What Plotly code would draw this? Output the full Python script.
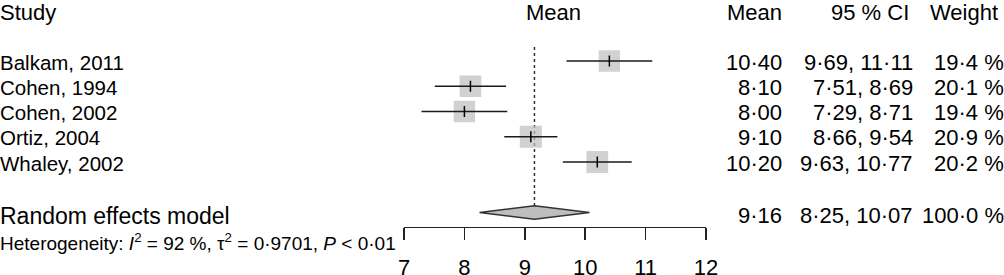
import numpy as np
import plotly.graph_objects as go

# ---- data ----
studies = ["Balkam, 2011", "Cohen, 1994", "Cohen, 2002", "Ortiz, 2004", "Whaley, 2002"]
means = [10.40, 8.10, 8.00, 9.10, 10.20]
lower = [9.69, 7.51, 7.29, 8.66, 9.63]
upper = [11.11, 8.69, 8.71, 9.54, 10.77]
weights = [19.4, 20.1, 19.4, 20.9, 20.2]
pooled_label = "Random effects model"
pooled_mean = 9.16
pooled_lower = 8.25
pooled_upper = 10.07
pooled_weight = 100.0
het_text = "Heterogeneity: <i>I</i><sup>2</sup> = 92 %, \u03c4<sup>2</sup> = 0\u00b79701, <i>P</i> &lt; 0\u00b701"
tick_vals = [7, 8, 9, 10, 11, 12]
x_range = [7, 12]

# ---- layout constants ----
W, H = 1004, 275
FONT = "Liberation Sans, Arial, sans-serif"
row_top = 10.5      # pixel of header row
row_h = 25.25       # pixel per row
axis_px = 226.7     # pixel of x axis line
study_rows = list(range(2, 2 + len(studies)))
pooled_row = study_rows[-1] + 2

y_top = -row_top / row_h
y_bot = (axis_px - row_top) / row_h

def fmt(v, d=2):
    return f"{v:.{d}f}".replace(".", "\u00b7")

def row_px(r):
    return row_top + row_h * r

fig = go.Figure()

# dotted line at pooled estimate
fig.add_trace(go.Scatter(x=[pooled_mean, pooled_mean], y=[1.45, pooled_row], mode="lines",
                         line=dict(color="#333333", width=1.5, dash="dot"), hoverinfo="skip"))

# squares (area proportional to weight)
sizes = [4.84 * np.sqrt(w) for w in weights]
fig.add_trace(go.Scatter(x=means, y=study_rows, mode="markers",
                         marker=dict(symbol="square", size=sizes, color="#BEBEBE", line=dict(width=0)),
                         hoverinfo="skip"))

# CI lines
cx, cy = [], []
for lo, up, r in zip(lower, upper, study_rows):
    cx += [lo, up, None]
    cy += [r, r, None]
fig.add_trace(go.Scatter(x=cx, y=cy, mode="lines", line=dict(color="#1a1a1a", width=1.5),
                         hoverinfo="skip"))

# mean ticks
fig.add_trace(go.Scatter(x=means, y=study_rows, mode="markers",
                         marker=dict(symbol="line-ns", size=8, line=dict(color="#000000", width=1.5)),
                         hoverinfo="skip"))

# diamond
hh = 0.265
fig.add_trace(go.Scatter(x=[pooled_lower, pooled_mean, pooled_upper, pooled_mean, pooled_lower],
                         y=[pooled_row, pooled_row - hh, pooled_row, pooled_row + hh, pooled_row],
                         mode="lines", fill="toself", fillcolor="#BEBEBE",
                         line=dict(color="#333333", width=1.5), hoverinfo="skip"))

ann = []
def txt(text, xpx, ypx, anchor="left", size=22):
    ann.append(dict(text=text, x=xpx / W, xref="paper", y=1 - ypx / H, yref="paper",
                    xanchor=anchor, yanchor="middle", showarrow=False,
                    borderpad=0, borderwidth=0,
                    font=dict(family=FONT, size=size, color="#000000")))

# headers
hdr_y = 12.5
txt("Study", 0, hdr_y, "left")
txt("Mean", 553, hdr_y, "center")
txt("Mean", 782, hdr_y, "right")
txt("95 % CI", 909, hdr_y, "right")
txt("Weight", 998, hdr_y, "right")

for name, m, lo, up, w, r in zip(studies, means, lower, upper, weights, study_rows):
    yp = row_px(r) + 1
    txt(name, 0, yp, "left", size=20.5)
    txt(fmt(m), 782, yp, "right")
    txt(f"{fmt(lo)}, {fmt(up)}", 913, yp, "right")
    txt(f"{fmt(w, 1)} %", 1004, yp, "right")

yp = row_px(pooled_row) + 3
txt(pooled_label, 0, yp, "left", size=23)
txt(fmt(pooled_mean), 782, yp, "right")
txt(f"{fmt(pooled_lower)}, {fmt(pooled_upper)}", 913, yp, "right")
txt(f"{fmt(pooled_weight, 1)} %", 1004, yp, "right")

txt(het_text, 0, 242, "left", size=19)

fig.update_layout(
    width=W, height=H,
    margin=dict(l=0, r=0, t=0, b=0, autoexpand=False),
    paper_bgcolor="white", plot_bgcolor="white",
    showlegend=False,
    annotations=ann,
    xaxis=dict(domain=[404 / W, 706 / W], range=x_range, tickvals=tick_vals,
               ticktext=[str(t) for t in tick_vals],
               showgrid=False, zeroline=False, showline=True, linecolor="#222222", linewidth=1.5,
               ticks="outside", ticklen=12, tickwidth=1.5, tickcolor="#222222",
               ticklabelstandoff=8, automargin=False,
               tickfont=dict(family=FONT, size=22, color="#000000"), fixedrange=True),
    yaxis=dict(domain=[(H - axis_px) / H, 1], range=[y_bot, y_top], visible=False,
               showgrid=False, zeroline=False, fixedrange=True),
)

fig.write_html("out.html", config={"displayModeBar": False, "staticPlot": True},
               post_script="document.body.style.margin='0';document.body.style.overflow='hidden';")
